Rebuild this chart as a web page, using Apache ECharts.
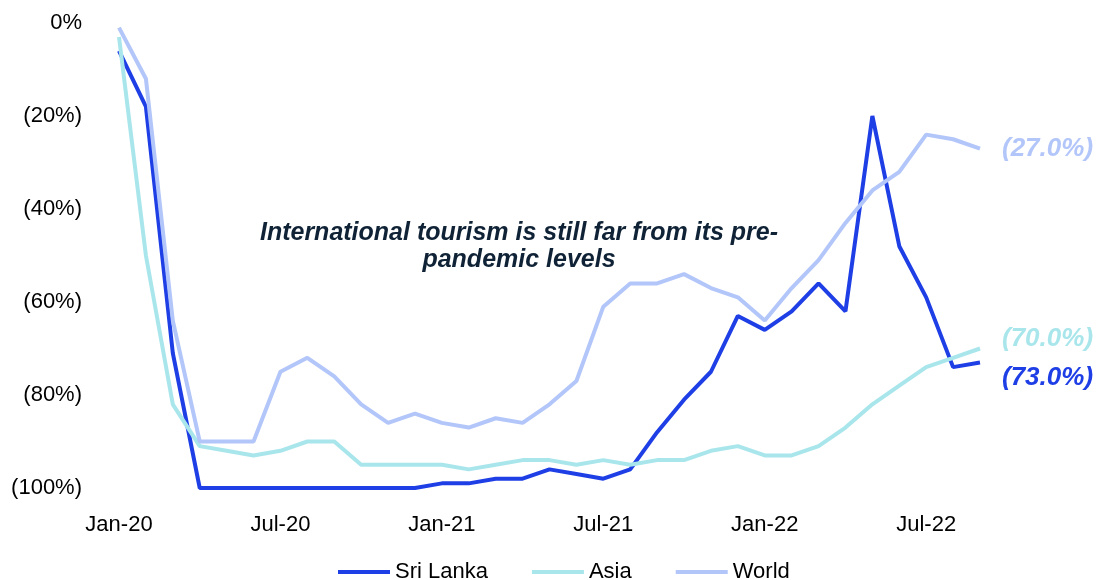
<!DOCTYPE html>
<html>
<head>
<meta charset="utf-8">
<script src="https://cdn.jsdelivr.net/npm/echarts@6/dist/echarts.min.js"></script>
<style>
  html, body { margin: 0; padding: 0; background: #fff; }
  #chart { width: 1097px; height: 580px; }
</style>
</head>
<body>
<div id="chart"></div>
<script>
// monthly categories, Jan-20 .. Sep-22
var months = [
  'Jan-20', 'Feb-20', 'Mar-20', 'Apr-20', 'May-20', 'Jun-20', 'Jul-20', 'Aug-20', 'Sep-20', 'Oct-20', 'Nov-20', 'Dec-20',
  'Jan-21', 'Feb-21', 'Mar-21', 'Apr-21', 'May-21', 'Jun-21', 'Jul-21', 'Aug-21', 'Sep-21', 'Oct-21', 'Nov-21', 'Dec-21',
  'Jan-22', 'Feb-22', 'Mar-22', 'Apr-22', 'May-22', 'Jun-22', 'Jul-22', 'Aug-22', 'Sep-22'
]

// change vs pre-pandemic arrivals, %
var sriLanka = [-6, -18, -71, -100, -100, -100, -100, -100, -100, -100, -100, -100,
  -99, -99, -98, -98, -96, -97, -98, -96, -88, -81, -75, -63,
  -66, -62, -56, -62, -20, -48, -59, -74, -73]
var asia = [-3, -50, -82, -91, -92, -93, -92, -90, -90, -95, -95, -95,
  -95, -96, -95, -94, -94, -95, -94, -95, -94, -94, -92, -91,
  -93, -93, -91, -87, -82, -78, -74, -72, -70]
var world = [-1, -12, -64, -90, -90, -90, -75, -72, -76, -82, -86, -84,
  -86, -87, -85, -86, -82, -77, -61, -56, -56, -54, -57, -59,
  -64, -57, -51, -43, -36, -32, -24, -25, -27]

var yTicks = [0, -20, -40, -60, -80, -100]

var FONT = '"Liberation Sans", Arial, sans-serif'

function pct(v) {
  return v === 0 ? '0%' : '(' + Math.abs(v) + '%)'
}

var chart = echarts.init(document.getElementById('chart'))

function lineSeries(name, data, color, offset) {
  return {
    name: name,
    type: 'line',
    data: data,
    symbol: 'none',
    lineStyle: { color: color, width: 4 },
    itemStyle: { color: color },
    // value shown at the end of each line
    endLabel: {
      show: true,
      offset: offset,
      distance: 22,
      color: color,
      fontFamily: FONT,
      fontSize: 26,
      fontWeight: 'bold',
      fontStyle: 'italic',
      formatter: function (p) {
        return '(' + Math.abs(p.value).toFixed(1) + '%)'
      }
    }
  }
}

chart.setOption({
  backgroundColor: '#ffffff',
  animation: false,
  grid: {
    left: 119,
    right: 117,
    top: 23,
    bottom: 92
  },
  legend: {
    top: 556,
    left: 333,
    icon: 'rect',
    itemWidth: 52,
    itemHeight: 4,
    itemGap: 44,
    textStyle: { fontFamily: FONT, fontSize: 22, color: '#000' },
    data: ['Sri Lanka', 'Asia', 'World']
  },
  xAxis: {
    type: 'category',
    boundaryGap: false,
    data: months,
    axisLine: { show: false },
    axisTick: { show: false },
    axisLabel: {
      interval: 5,
      margin: 26,
      fontFamily: FONT,
      fontSize: 22,
      color: '#000'
    }
  },
  yAxis: {
    type: 'value',
    min: Math.min.apply(null, yTicks),
    max: Math.max.apply(null, yTicks),
    interval: 20,
    splitLine: { show: false },
    axisLine: { show: false },
    axisTick: { show: false },
    axisLabel: {
      margin: 37,
      fontFamily: FONT,
      fontSize: 22,
      color: '#000',
      formatter: pct
    }
  },
  graphic: [{
    type: 'text',
    x: 519,
    y: 220,
    style: {
      text: 'International tourism is still far from its pre-\npandemic levels',
      align: 'center',
      verticalAlign: 'top',
      fill: '#0f2236',
      font: 'italic bold 25px ' + FONT,
      lineHeight: 27
    }
  }],
  series: [
    lineSeries('Sri Lanka', sriLanka, '#1f3fe6', [0, 15]),
    lineSeries('Asia', asia, '#a9e6ec', [0, -10]),
    lineSeries('World', world, '#b3c6fa', [0, 0])
  ]
})
</script>
</body>
</html>
